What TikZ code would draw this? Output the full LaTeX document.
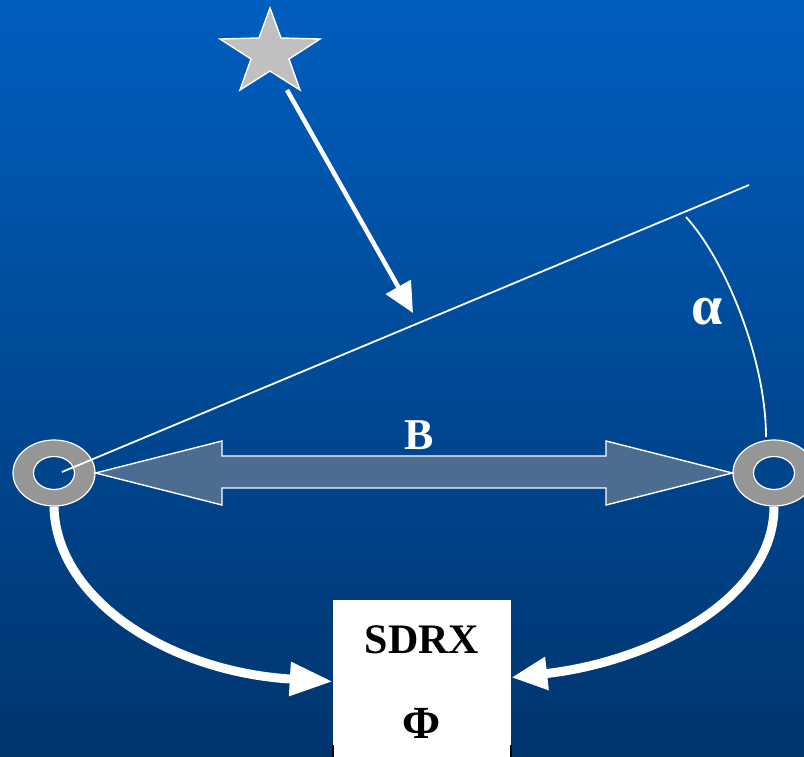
\documentclass[tikz,border=0pt]{standalone}
\usepackage{fontspec}
\setmainfont{Liberation Serif}
\usetikzlibrary{arrows.meta,shapes.geometric,calc}
\definecolor{bgtop}{RGB}{0,94,190}
\definecolor{bgbot}{RGB}{0,53,110}
\definecolor{ringgray}{RGB}{150,150,150}
\definecolor{holecol}{RGB}{0,68,140}
\definecolor{stargray}{RGB}{192,192,192}
\definecolor{basecol}{RGB}{76,108,145}
\tikzset{
  ringouter/.style={ellipse, minimum width=82pt, minimum height=66pt, inner sep=0pt, fill=ringgray, draw=white, line width=1.2pt},
  ringinner/.style={ellipse, minimum width=41pt, minimum height=33pt, inner sep=0pt, fill=holecol, draw=white, line width=1.2pt},
  starshape/.style={fill=stargray, draw=white, line width=1.4pt, line join=miter},
  boxnode/.style={rectangle, minimum width=178pt, minimum height=157pt, inner sep=0pt, fill=white},
  lbl/.style={text=white, font=\fontsize{44}{44}\selectfont\bfseries, anchor=base, inner sep=0pt},
  boxlbl/.style={text=black, font=\fontsize{42}{42}\selectfont\bfseries, anchor=base, inner sep=0pt},
  thinline/.style={draw=white, line width=1.8pt},
  rayarrow/.style={draw=white, line width=4.5pt, -{Triangle[length=30pt,width=28pt]}, fill=white},
  bigarrow/.style={draw=white, line width=9pt, -{Triangle[length=43pt,width=32pt]}},
  dblarrow/.style={fill=basecol, draw=white, line width=1.4pt, line join=miter},
}
\begin{document}
\begin{tikzpicture}[x=1pt,y=-1pt]
\useasboundingbox (0,0) rectangle (804,757);
\clip (0,0) rectangle (804,757);
\shade[top color=bgtop, bottom color=bgbot] (0,0) rectangle (804,757);
% star and ray
\coordinate (star) at (270,53);
\draw[starshape] (270,8) -- (281,38) -- (320,39) -- (289,59) -- (300,90) -- (270,71)
   -- (240,90) -- (251,59) -- (220,39) -- (259,38) -- cycle;
\coordinate (rs) at (287,90);
\coordinate (rt) at (413,313);
\draw[rayarrow] (rs) -- (rt);
% rings
\node[ringouter] (lring) at (54,473) {};
\node[ringinner] (lhole) at (54,473) {};
\node[ringouter] (rring) at (774,473) {};
\node[ringinner] (rhole) at (774,473) {};
% baseline double arrow
\draw[dblarrow] (lring.east) -- (222,441) -- (222,456) -- (606,456) -- (606,441) -- (rring.west)
   -- (606,505) -- (606,488) -- (222,488) -- (222,505) -- cycle;
\node[lbl] (B) at (419.5,449) {B};
% line of sight
\coordinate (ls) at (62,472);
\coordinate (le) at (749,185);
\draw[thinline] (ls) -- (le);
% alpha arc
\coordinate (a1) at (686,217);
\coordinate (a2) at (766,437);
\draw[thinline] (a1) .. controls (726,261) and (766,360) .. (a2);
\node[lbl, font=\fontsize{56}{56}\selectfont\bfseries] (alpha) at (707,324) {α};
% SDRX box
\node[boxnode] (sdrx) at (422,678.5) {};
\draw[black, line width=2pt] (333,745) -- (333,757);
\draw[black, line width=2pt] (511,745) -- (511,757);
\node[boxlbl] (sdrxtxt) at (422,653) {SDRX};
\node[boxlbl, font=\fontsize{46}{46}\selectfont\bfseries] (phi) at (422,738) {Φ};
% curved arrows
\draw[bigarrow] (lring.south) .. controls (56,600) and (170,672) .. ($(sdrx.west)+(0,3)$);
\draw[bigarrow, -{Triangle[length=36pt,width=31pt]}] (rring.south) .. controls (774,600) and (650,662) .. ($(sdrx.east)+(0,-1)$);
\end{tikzpicture}
\end{document}
